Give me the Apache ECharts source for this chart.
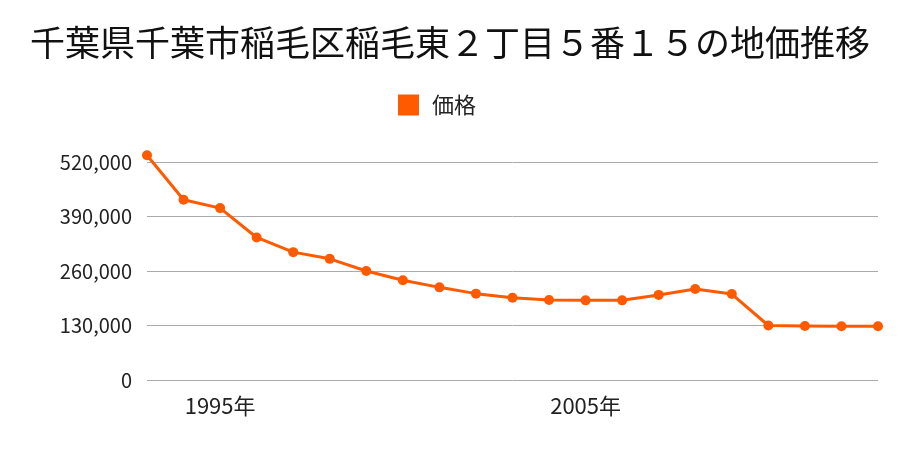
<!DOCTYPE html>
<html><head><meta charset="utf-8">
<script src="https://cdn.jsdelivr.net/npm/echarts@6/dist/echarts.min.js"></script>
<style>html,body{margin:0;padding:0;background:#fff}#c{width:900px;height:450px}</style>
</head><body><div id="c"></div>
<script>
const titleText = '千葉県千葉市稲毛区稲毛東２丁目５番１５の地価推移';
const seriesName = '価格';
const years = ['1993','1994','1995','1996','1997','1998','1999','2000','2001','2002','2003','2004','2005','2006','2007','2008','2009','2010','2011','2012','2013'];
const prices = [536000,430000,410000,340000,305000,289000,260000,238000,221000,206000,196000,191000,190000,190000,203000,217000,205000,130000,129000,128000,128000];
const shownYears = ['1995','2005'];
const yTicks = [0,130000,260000,390000,520000];

const font = '"Noto Sans CJK JP", sans-serif';
const chart = echarts.init(document.getElementById('c'), null, {renderer:'canvas'});
chart.setOption({
  animation:false,
  backgroundColor:'#fff',
  title:{text:titleText,left:'center',top:18,textStyle:{fontFamily:font,fontSize:35,fontWeight:'normal',color:'#111',lineHeight:40}},
  legend:{data:[seriesName],top:89,left:393,itemWidth:21,itemHeight:21,icon:'rect',itemGap:10,
    textStyle:{fontFamily:font,fontSize:22,color:'#222',padding:[0,0,0,8]}},
  grid:{left:147,right:22,top:162,bottom:70,containLabel:false},
  xAxis:{type:'category',data:years,boundaryGap:false,
    axisLine:{show:false},axisTick:{show:false},splitLine:{show:false},
    axisLabel:{interval:0,margin:15,fontFamily:font,fontSize:22,color:'#222',
      formatter:v=>shownYears.includes(v)?v+'年':''}},
  yAxis:{type:'value',min:yTicks[0],max:yTicks[yTicks.length-1],interval:yTicks[1]-yTicks[0],
    axisLine:{show:false},axisTick:{show:false},
    splitLine:{lineStyle:{color:'#aaa',width:1}},
    axisLabel:{margin:15,fontFamily:font,fontSize:20,color:'#222',
      formatter:v=>v.toLocaleString('en-US')}},
  series:[{name:seriesName,type:'line',data:prices,clip:false,
    symbol:'circle',symbolSize:10,
    lineStyle:{color:'#ff5a00',width:3},
    itemStyle:{color:'#ff5a00'}}]
});
</script></body></html>
